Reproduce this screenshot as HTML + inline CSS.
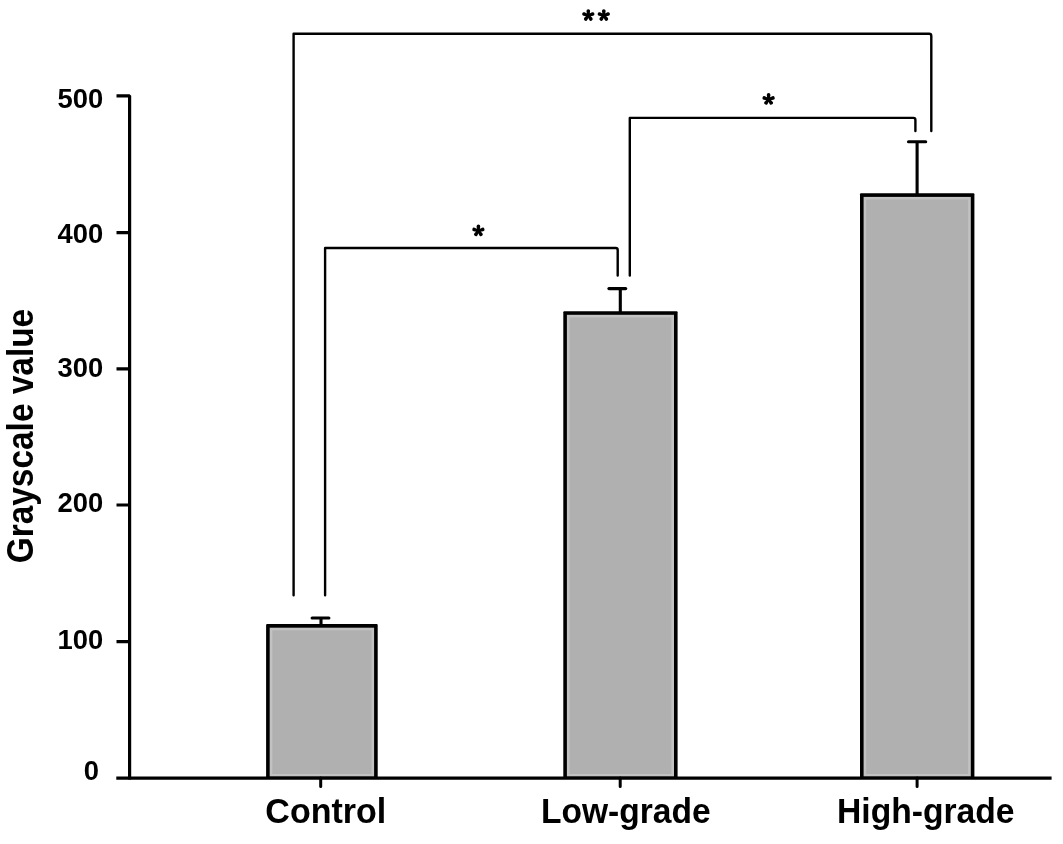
<!DOCTYPE html>
<html><head><meta charset="utf-8">
<style>
html,body{margin:0;padding:0;background:#fff;}
body{width:1063px;height:844px;overflow:hidden;}
svg{display:block;filter:grayscale(1);}
text{font-family:"Liberation Sans",sans-serif;font-weight:bold;fill:#000;}
</style></head>
<body>
<svg width="1063" height="844" viewBox="0 0 1063 844">
<rect x="0" y="0" width="1063" height="844" fill="#fff"/>
<rect x="266.1" y="624.1" width="111.60" height="153.90" fill="#000" rx="1"/>
<rect x="269.70" y="627.70" width="104.40" height="148.90" fill="#c2c2c2"/>
<rect x="272.30" y="630.30" width="99.20" height="143.70" fill="#b0b0b0"/>
<rect x="563.3" y="311.2" width="114.30" height="466.80" fill="#000" rx="1"/>
<rect x="566.90" y="314.80" width="107.10" height="461.80" fill="#c2c2c2"/>
<rect x="569.50" y="317.40" width="101.90" height="456.60" fill="#b0b0b0"/>
<rect x="860.0" y="193.3" width="114.40" height="584.70" fill="#000" rx="1"/>
<rect x="863.60" y="196.90" width="107.20" height="579.70" fill="#c2c2c2"/>
<rect x="866.20" y="199.50" width="102.00" height="574.50" fill="#b0b0b0"/>
<g stroke="#000" fill="none" stroke-width="3.1">
  <path d="M321 618 V625"/>
  <path d="M312.1 618 H328.9" stroke-linecap="round"/>
  <path d="M620.3 288.6 V312"/>
  <path d="M608.9 288.6 H625.7" stroke-linecap="round"/>
  <path d="M917.1 141.7 V194"/>
  <path d="M908.5 141.7 H925.7" stroke-linecap="round"/>
</g>
<g stroke="#000" stroke-width="3.2" fill="none">
  <path d="M116.5 95.8 H129.6 V779.5" stroke-linejoin="bevel"/>
  <path d="M116.3 778.2 H1051.6"/>
  <path d="M116.5 232.6 H129.6 M116.5 368.8 H129.6 M116.5 505 H129.6 M116.5 641.6 H129.6" stroke-width="3.2"/>
  <path d="M320.7 778 V786.4 M620.2 778 V786.4 M917.1 778 V786.4" stroke-width="3" stroke-linecap="round"/>
</g>
<g stroke="#000" stroke-width="2.4" fill="none" stroke-linecap="round" stroke-linejoin="round">
  <path d="M293.6 595.3 V33.8 H929.1 Q931.3 33.8 931.3 36 V131.1"/>
  <path d="M325.1 595.3 V248 H615.7 Q617.7 248 617.7 250 V275.5"/>
  <path d="M629.8 275.5 V117.9 H913.4 Q915.4 117.9 915.4 119.9 V131.1"/>
</g>
<path d="M589.40 15.50 L590.15 11.00 A1.85 1.85 0 0 0 586.45 11.00 L587.20 15.50 Z M588.64 16.55 L593.15 15.87 A1.85 1.85 0 0 0 592.01 12.35 L587.96 14.45 Z M587.41 16.15 L589.32 20.05 A1.85 1.85 0 0 0 592.31 17.87 L589.19 14.85 Z M587.41 14.85 L584.29 17.87 A1.85 1.85 0 0 0 587.28 20.05 L589.19 16.15 Z M588.64 14.45 L584.59 12.35 A1.85 1.85 0 0 0 583.45 15.87 L587.96 16.55 Z" fill="#000"/><circle cx="588.3" cy="15.5" r="1.6" fill="#000"/>
<path d="M604.90 15.50 L605.65 11.00 A1.85 1.85 0 0 0 601.95 11.00 L602.70 15.50 Z M604.14 16.55 L608.65 15.87 A1.85 1.85 0 0 0 607.51 12.35 L603.46 14.45 Z M602.91 16.15 L604.82 20.05 A1.85 1.85 0 0 0 607.81 17.87 L604.69 14.85 Z M602.91 14.85 L599.79 17.87 A1.85 1.85 0 0 0 602.78 20.05 L604.69 16.15 Z M604.14 14.45 L600.09 12.35 A1.85 1.85 0 0 0 598.95 15.87 L603.46 16.55 Z" fill="#000"/><circle cx="603.8" cy="15.5" r="1.6" fill="#000"/>
<path d="M479.50 230.90 L480.25 226.40 A1.85 1.85 0 0 0 476.55 226.40 L477.30 230.90 Z M478.74 231.95 L483.25 231.27 A1.85 1.85 0 0 0 482.11 227.75 L478.06 229.85 Z M477.51 231.55 L479.42 235.45 A1.85 1.85 0 0 0 482.41 233.27 L479.29 230.25 Z M477.51 230.25 L474.39 233.27 A1.85 1.85 0 0 0 477.38 235.45 L479.29 231.55 Z M478.74 229.85 L474.69 227.75 A1.85 1.85 0 0 0 473.55 231.27 L478.06 231.95 Z" fill="#000"/><circle cx="478.4" cy="230.9" r="1.6" fill="#000"/>
<path d="M769.70 99.40 L770.45 94.90 A1.85 1.85 0 0 0 766.75 94.90 L767.50 99.40 Z M768.94 100.45 L773.45 99.77 A1.85 1.85 0 0 0 772.31 96.25 L768.26 98.35 Z M767.71 100.05 L769.62 103.95 A1.85 1.85 0 0 0 772.61 101.77 L769.49 98.75 Z M767.71 98.75 L764.59 101.77 A1.85 1.85 0 0 0 767.58 103.95 L769.49 100.05 Z M768.94 98.35 L764.89 96.25 A1.85 1.85 0 0 0 763.75 99.77 L768.26 100.45 Z" fill="#000"/><circle cx="768.6" cy="99.4" r="1.6" fill="#000"/>
<g font-size="27.4" text-anchor="end">
  <text x="103.2" y="108.3">500</text>
  <text x="103.2" y="242.5">400</text>
  <text x="103.2" y="377">300</text>
  <text x="103.2" y="511.6">200</text>
  <text x="103.2" y="649">100</text>
  <text x="99.1" y="779.8">0</text>
</g>
<text transform="translate(265.29 822.9) scale(0.9460 1)" font-size="36">Control</text>
<text transform="translate(540.91 822.9) scale(0.9330 1)" font-size="36">Low-grade</text>
<text transform="translate(837.01 822.9) scale(0.9342 1)" font-size="36">High-grade</text>
<text transform="translate(33.3 563.31) rotate(-90) scale(0.9032 1)" font-size="37">Grayscale value</text>
</svg>
</body></html>
